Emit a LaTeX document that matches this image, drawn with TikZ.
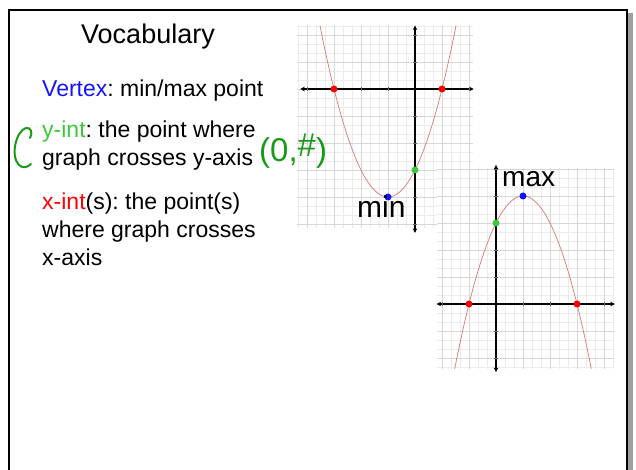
\documentclass[tikz,border=0pt]{standalone}
\usepackage{fontspec}
\setmainfont{Liberation Sans}
\usetikzlibrary{arrows.meta}
\definecolor{vblue}{RGB}{20,20,255}
\definecolor{ygreen}{RGB}{60,200,60}
\definecolor{xred}{RGB}{255,0,0}
\definecolor{hgreen}{RGB}{25,155,25}
\definecolor{curvered}{RGB}{215,120,120}
\definecolor{gminor}{RGB}{236,236,236}
\definecolor{gmajor}{RGB}{215,215,215}
\frenchspacing
\begin{document}
\begin{tikzpicture}[x=1pt,y=-1pt,
  txt/.style={inner sep=0pt, anchor=base west, font=\fontsize{23}{28}\selectfont},
  hand/.style={inner sep=0pt, anchor=base west, font=\fontsize{30}{30}\selectfont},
  gridminor/.style={gminor, line width=0.5pt},
  gridmajor/.style={gmajor, line width=0.6pt},
  axisline/.style={black, line width=1.3pt, {Stealth[length=4.5pt,width=4.5pt]}-{Stealth[length=4.5pt,width=4.5pt]}},
  tick/.style={black!60, line width=0.5pt},
  curve/.style={curvered, line width=0.7pt},
  dotmark/.style={fill=#1, draw=none}]
\useasboundingbox (0,0) rectangle (636,470);
% frame
\fill[gray!75] (628,13) rectangle (633,470);
\draw[line width=2.5pt] (9,472) -- (9,10) -- (627,10) -- (627,472);

% texts
\node[inner sep=0pt, anchor=base, font=\fontsize{27}{30}\selectfont] (title) at (148,44) {Vocabulary};
\node[txt] (vertex) at (42,97) {\textcolor{vblue}{Vertex}: min/max point};
\node[txt] (yint1) at (42,138) {\textcolor{ygreen}{y-int}: the point where};
\node[txt] (yint2) at (42,166) {graph crosses y-axis};
\node[txt] (xint1) at (42,209) {\textcolor{xred}{x-int}(s): the point(s)};
\node[txt] (xint2) at (42,237) {where graph crosses};
\node[txt] (xint3) at (42,265) {x-axis};

% graph 1 (origin 415,89; unit 27pt)
\begin{scope}[shift={(415,89)}, x=27pt, y=27pt]
  \foreach \k in {-13,...,6} \draw[gridminor] (\k/3,-5.148) -- (\k/3,2.37);
  \foreach \k in {-15,...,7} \draw[gridminor] (-4.37,\k/3) -- (2.148,\k/3);
  \foreach \k in {-4,...,2} \draw[gridmajor] (\k,-5.148) -- (\k,2.37);
  \foreach \k in {-5,...,2} \draw[gridmajor] (-4.37,\k) -- (2.148,\k);
  \draw[axisline] (-4.25,0) coordinate (a1l) -- (2.17,0) coordinate (a1r);
  \draw[axisline] (0,2.35) coordinate (a1t) -- (0,-5.33) coordinate (a1b);
  \foreach \k in {-4,...,-1,1,2} \draw[tick] (\k,-0.07) -- (\k,0.07);
  \foreach \k in {-5,...,-1,1,2} \draw[tick] (-0.07,\k) -- (0.07,\k);
  \draw[curve] plot[domain=-3.52:1.52, samples=80] (\x, {\x*\x+2*\x-3});
  \fill[dotmark=xred] (-3,0) circle[radius=3.5pt];
  \fill[dotmark=xred] (1,0) circle[radius=3.5pt];
  \fill[dotmark=ygreen] (0,-3) circle[radius=3.5pt];
  \fill[dotmark=vblue] (-1,-4) circle[radius=3.5pt];
\end{scope}

% graph 2 (origin 496,304; unit 27pt)
\begin{scope}[shift={(496,304)}, x=27pt, y=27pt]
  \fill[white] (-2.185,-2.407) rectangle (4.37,5.037);
  \foreach \k in {-6,...,13} \draw[gridminor] (\k/3,-2.407) -- (\k/3,5.037);
  \foreach \k in {-7,...,15} \draw[gridminor] (-2.185,\k/3) -- (4.37,\k/3);
  \foreach \k in {-2,...,4} \draw[gridmajor] (\k,-2.407) -- (\k,5.037);
  \foreach \k in {-2,...,5} \draw[gridmajor] (-2.185,\k) -- (4.37,\k);
  \draw[axisline] (-2.2,0) coordinate (a2l) -- (4.4,0) coordinate (a2r);
  \draw[axisline] (0,5.15) coordinate (a2t) -- (0,-2.52) coordinate (a2b);
  \foreach \k in {-2,-1,1,2,3,4} \draw[tick] (\k,-0.07) -- (\k,0.07);
  \foreach \k in {-2,-1,1,2,3,4,5} \draw[tick] (-0.07,\k) -- (0.07,\k);
  \draw[curve] plot[domain=-1.53:3.53, samples=80] (\x, {-\x*\x+2*\x+3});
  \fill[dotmark=xred] (-1,0) circle[radius=3.5pt];
  \fill[dotmark=xred] (3,0) circle[radius=3.5pt];
  \fill[dotmark=ygreen] (0,3) circle[radius=3.5pt];
  \fill[dotmark=vblue] (1,4) circle[radius=3.5pt];
\end{scope}

% handwritten annotations
\node[hand, text=hgreen, font=\fontsize{33}{33}\selectfont] (coord) at (259,162) {(0,\raisebox{5pt}{\#})};
\node[hand] (minlbl) at (357,218) {min};
\node[hand, font=\fontsize{28}{28}\selectfont] (maxlbl) at (502,187) {max};
\draw[hgreen, line width=2pt, line cap=round]
  (30,138) .. controls (33,133) and (31,127) .. (26,128)
  .. controls (16,131) and (10,156) .. (19,165)
  .. controls (23,169) and (28,167) .. (31,164);
\end{tikzpicture}
\end{document}
